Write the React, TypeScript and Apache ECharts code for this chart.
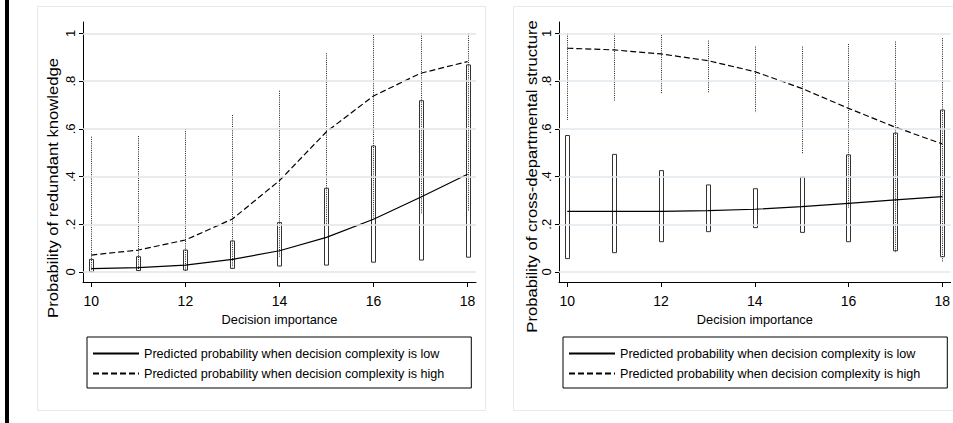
import React, { useEffect, useRef } from "react";
import * as echarts from "echarts";

// ---------- data ----------
const decisionImportance = [10, 11, 12, 13, 14, 15, 16, 17, 18];
const xTicks = [10, 12, 14, 16, 18];
const yTicks = [0, 0.2, 0.4, 0.6, 0.8, 1];
const yTickLabels = ["0", ".2", ".4", ".6", ".8", "1"];

// Panel 1: redundant knowledge
const rkLowPred = [0.014, 0.018, 0.029, 0.053, 0.089, 0.145, 0.221, 0.313, 0.41];
const rkHighPred = [0.071, 0.092, 0.134, 0.222, 0.383, 0.588, 0.738, 0.833, 0.882];
const rkLowCiLo = [0.001, 0.006, 0.008, 0.015, 0.025, 0.029, 0.041, 0.05, 0.062];
const rkLowCiHi = [0.053, 0.064, 0.092, 0.13, 0.207, 0.351, 0.528, 0.718, 0.868];
const rkHighCiLo = [0.0, 0.0, 0.005, 0.02, 0.06, 0.19, 0.225, 0.243, 0.253];
const rkHighCiHi = [0.567, 0.57, 0.6, 0.658, 0.76, 0.917, 0.994, 1.0, 1.0];

// Panel 2: cross-departmental structure
const cdLowPred = [0.254, 0.254, 0.254, 0.257, 0.263, 0.274, 0.288, 0.302, 0.316];
const cdHighPred = [0.938, 0.931, 0.914, 0.886, 0.84, 0.77, 0.686, 0.607, 0.537];
const cdLowCiLo = [0.056, 0.081, 0.127, 0.169, 0.186, 0.166, 0.127, 0.089, 0.064];
const cdLowCiHi = [0.572, 0.493, 0.425, 0.365, 0.349, 0.398, 0.491, 0.582, 0.679];
const cdHighCiLo = [0.637, 0.714, 0.746, 0.749, 0.668, 0.493, 0.27, 0.08, 0.039];
const cdHighCiHi = [1.0, 1.0, 0.994, 0.97, 0.945, 0.945, 0.956, 0.966, 0.98];

const lowName = "Predicted probability when decision complexity is low";
const highName = "Predicted probability when decision complexity is high";
const xTitle = "Decision importance";
const yTitles = ["Probability of redundant knowledge", "Probability of cross-departmental structure"];

const FONT = "'Liberation Sans', Arial, sans-serif";

function buildOption() {
  const panels = [
    { low: rkLowPred, high: rkHighPred, lLo: rkLowCiLo, lHi: rkLowCiHi, hLo: rkHighCiLo, hHi: rkHighCiHi, grid: "#e4e4e4" },
    { low: cdLowPred, high: cdHighPred, lLo: cdLowCiLo, lHi: cdLowCiHi, hLo: cdHighCiLo, hHi: cdHighCiHi, grid: "#e0e9ec" },
  ];
  const series: any[] = [];
  panels.forEach((p, gi) => {
    series.push({
      type: "line",
      xAxisIndex: gi,
      yAxisIndex: gi,
      data: [],
      silent: true,
      markLine: {
        silent: true,
        symbol: ["none", "none"],
        label: { show: false },
        lineStyle: { color: p.grid, type: "solid", width: 1.6 },
        data: yTicks.map((v) => ({ yAxis: v })),
      },
    });
    series.push({
      type: "custom",
      xAxisIndex: gi,
      yAxisIndex: gi,
      silent: true,
      data: decisionImportance.map((x, i) => [x, p.lLo[i], p.lHi[i]]),
      encode: { x: 0, y: [1, 2] },
      renderItem: (params: any, api: any) => {
        const x = api.value(0);
        const a = api.coord([x, api.value(2)]);
        const b = api.coord([x, api.value(1)]);
        const cx = Math.round(a[0]) + 0.5;
        return {
          type: "rect",
          shape: { x: cx - 2, y: a[1], width: 4, height: b[1] - a[1] },
          style: { fill: "#fff", stroke: "#333", lineWidth: 1 },
        };
      },
    });
    series.push({
      type: "custom",
      xAxisIndex: gi,
      yAxisIndex: gi,
      silent: true,
      data: decisionImportance.map((x, i) => [x, p.hLo[i], p.hHi[i]]),
      encode: { x: 0, y: [1, 2] },
      renderItem: (params: any, api: any) => {
        const x = api.value(0);
        const a = api.coord([x, api.value(2)]);
        const b = api.coord([x, api.value(1)]);
        const cx = Math.round(a[0]) + 0.5;
        return {
          type: "line",
          shape: { x1: cx, y1: a[1], x2: cx, y2: b[1] },
          style: { stroke: "#222", lineWidth: 1, lineDash: [1, 1.2] },
        };
      },
    });
    series.push({
      name: lowName,
      type: "line",
      xAxisIndex: gi,
      yAxisIndex: gi,
      symbol: "none",
      lineStyle: { color: "#000", width: 1.2, type: "solid" },
      itemStyle: { color: "#000" },
      data: decisionImportance.map((x, i) => [x, p.low[i]]),
    });
    series.push({
      name: highName,
      type: "line",
      xAxisIndex: gi,
      yAxisIndex: gi,
      symbol: "none",
      lineStyle: { color: "#000", width: 1.2, type: [6, 3] },
      itemStyle: { color: "#000" },
      data: decisionImportance.map((x, i) => [x, p.high[i]]),
    });
  });

  const gridDefs = [
    { left: 83, top: 22, width: 393, height: 260 },
    { left: 559, top: 22, width: 392, height: 260 },
  ];

  const xAxis = gridDefs.map((_, gi) => ({
    type: "value",
    gridIndex: gi,
    min: 9.823,
    max: 18.18,
    axisLine: { onZero: false, lineStyle: { color: "#000", width: 1 } },
    axisTick: { customValues: xTicks, length: 5, lineStyle: { color: "#000" } },
    axisLabel: {
      customValues: xTicks,
      color: "#000",
      fontSize: 14,
      fontFamily: FONT,
      margin: 12,
      formatter: (v: number) => String(v),
    },
    splitLine: { show: false },
    name: xTitle,
    nameLocation: "middle",
    nameGap: 30,
    nameTextStyle: { color: "#000", fontSize: 12.8, fontFamily: FONT },
  }));

  const yAxis = gridDefs.map((_, gi) => ({
    type: "value",
    gridIndex: gi,
    min: -0.042,
    max: 1.048,
    axisLine: { onZero: false, lineStyle: { color: "#000", width: 1 } },
    axisTick: { customValues: yTicks, length: 4, lineStyle: { color: "#000" } },
    axisLabel: {
      customValues: yTicks,
      color: "#000",
      fontSize: 13,
      fontFamily: FONT,
      rotate: 90,
      margin: 6,
      formatter: (v: number) => {
        const i = yTicks.findIndex((t) => Math.abs(t - v) < 1e-6);
        return i >= 0 ? yTickLabels[i] : "";
      },
    },
    splitLine: { show: false },
  }));

  const legendBase = {
    orient: "vertical",
    top: 337,
    itemWidth: 46,
    itemHeight: 14,
    itemGap: 7,
    padding: [10, 27, 8, 5],
    borderColor: "#000",
    borderWidth: 1,
    selectedMode: false,
    itemStyle: { color: "rgba(0,0,0,0)", borderWidth: 0, opacity: 0 },
    textStyle: { color: "#000", fontSize: 12.6, fontFamily: FONT },
    data: [lowName, highName],
  };

  const graphic = [
    { type: "rect", shape: { x: 37.5, y: 6.5, width: 448, height: 404 }, style: { fill: "none", stroke: "#e8e8e8", lineWidth: 1 }, z: -1 },
    { type: "rect", shape: { x: 513.5, y: 6.5, width: 460, height: 404 }, style: { fill: "none", stroke: "#e4eaed", lineWidth: 1 }, z: -1 },
    { type: "rect", shape: { x: 5, y: 0, width: 4, height: 423 }, style: { fill: "#000" } },
    {
      type: "text",
      x: 53,
      y: 188,
      rotation: Math.PI / 2,
      scaleX: 1.11,
      style: {
        text: yTitles[0],
        fill: "#000",
        fontSize: 15,
        fontFamily: FONT,
        textAlign: "center",
        textVerticalAlign: "middle",
        align: "center",
        verticalAlign: "middle",
      },
    },
    {
      type: "text",
      x: 532,
      y: 176.5,
      rotation: Math.PI / 2,
      scaleX: 1.11,
      style: {
        text: yTitles[1],
        fill: "#000",
        fontSize: 15,
        fontFamily: FONT,
        textAlign: "center",
        textVerticalAlign: "middle",
        align: "center",
        verticalAlign: "middle",
      },
    },
  ];

  return {
    animation: false,
    backgroundColor: "#fff",
    textStyle: { fontFamily: FONT },
    grid: gridDefs,
    xAxis,
    yAxis,
    legend: [
      { ...legendBase, left: 87 },
      { ...legendBase, left: 563 },
    ],
    graphic,
    series,
  };
}

export default function App() {
  const ref = useRef<HTMLDivElement>(null);
  useEffect(() => {
    if (!ref.current) return;
    const chart = echarts.init(ref.current, undefined, { renderer: "svg" });
    chart.setOption(buildOption() as any);
    return () => chart.dispose();
  }, []);
  return (
    <div
      ref={ref}
      style={{ position: "absolute", left: 0, top: 0, width: 953, height: 423, background: "#fff" }}
    />
  );
}
